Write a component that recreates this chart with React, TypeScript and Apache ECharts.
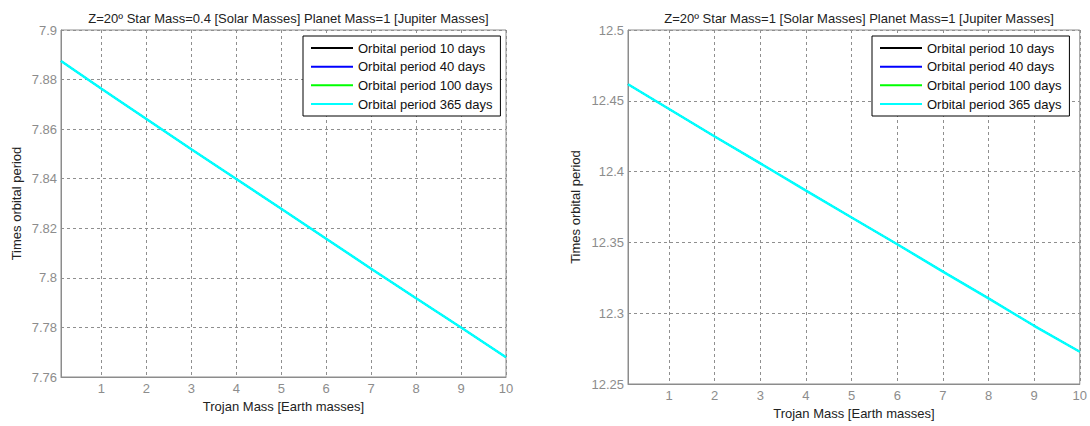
import React, { useEffect, useRef } from "react";
import * as echarts from "echarts";

const trojanMass = [0.1, 1, 2, 3, 4, 5, 6, 7, 8, 9, 10];
const xTicks = [1, 2, 3, 4, 5, 6, 7, 8, 9, 10];
const periodLeft = [7.8875, 7.8763, 7.8641, 7.8519, 7.8399, 7.8279, 7.8158, 7.8037, 7.7918, 7.78, 7.768];
const periodRight = [12.4617, 12.4442, 12.4248, 12.4058, 12.3866, 12.3676, 12.3487, 12.3294, 12.3105, 12.2911, 12.2728];
const seriesNames = ["Orbital period 10 days", "Orbital period 40 days", "Orbital period 100 days", "Orbital period 365 days"];
const seriesColors = ["#000000", "#0000ff", "#00ff00", "#00ffff"];
const titleLeft = "Z=20º Star Mass=0.4 [Solar Masses] Planet Mass=1 [Jupiter Masses]";
const titleRight = "Z=20º Star Mass=1 [Solar Masses] Planet Mass=1 [Jupiter Masses]";

const FONT = "'Liberation Sans', Arial, sans-serif";
const GRAY = "#8c8c8c";

export default function App() {
  const ref = useRef<HTMLDivElement>(null);
  useEffect(() => {
    document.body.style.margin = "0";
    const chart = echarts.init(ref.current!, null, { renderer: "svg" });
    const grids = [
      { left: 61, top: 30, width: 445, height: 347 },
      { left: 628, top: 30, width: 452, height: 354 },
    ];
    const yRanges = [
      { min: 7.76, max: 7.9, interval: 0.02, nameGap: 38 },
      { min: 12.25, max: 12.5, interval: 0.05, nameGap: 46 },
    ];
    const xNameGaps = [23, 21];
    const xLabelMargins = [5, 5];
    const dataSets = [periodLeft, periodRight];
    const series: any[] = [];
    dataSets.forEach((d, gi) => {
      seriesNames.forEach((n, si) => {
        const top = si === seriesNames.length - 1;
        series.push({
          type: "line",
          name: n,
          xAxisIndex: gi,
          yAxisIndex: gi,
          data: trojanMass.map((x, i) => [x, d[i]]),
          symbol: "none",
          lineStyle: { width: top ? 2.5 : 1.2, color: seriesColors[si] },
          itemStyle: { color: seriesColors[si] },
          z: 2 + si,
        });
      });
    });
    const legendLefts = [303, 872];
    chart.setOption({
      animation: false,
      textStyle: { fontFamily: FONT },
      title: [
        {
          text: titleLeft,
          left: 61 + 445 / 2,
          textAlign: "center",
          top: 7,
          textStyle: { fontSize: 13, fontWeight: "normal", color: "#222", fontFamily: FONT },
        },
        {
          text: titleRight,
          left: 628 + 452 / 2,
          textAlign: "center",
          top: 7,
          textStyle: { fontSize: 13, fontWeight: "normal", color: "#222", fontFamily: FONT },
        },
      ],
      legend: legendLefts.map((l) => ({
        orient: "vertical",
        left: l,
        top: 36,
        padding: [5, 8, 5, 8],
        icon: "rect",
        itemWidth: 42,
        itemHeight: 2,
        itemGap: 4.67,
        backgroundColor: "#fff",
        borderColor: "#000",
        borderWidth: 1,
        borderRadius: 0,
        data: seriesNames,
        textStyle: { fontSize: 13, lineHeight: 14, color: "#111", fontFamily: FONT },
      })),
      grid: grids.map((g) => ({
        ...g,
        show: true,
        borderColor: GRAY,
        borderWidth: 1,
        backgroundColor: "#fff",
      })),
      xAxis: grids.map((g, gi) => ({
        type: "value",
        gridIndex: gi,
        min: 0.1,
        max: 10,
        name: "Trojan Mass [Earth masses]",
        nameLocation: "middle",
        nameGap: xNameGaps[gi],
        nameTextStyle: { fontSize: 13, color: "#222", fontFamily: FONT },
        axisLine: { show: true, lineStyle: { color: GRAY } },
        axisTick: { show: false, customValues: xTicks },
        axisLabel: {
          customValues: xTicks,
          fontSize: 13,
          color: GRAY,
          margin: xLabelMargins[gi],
          fontFamily: FONT,
        },
        splitLine: { show: true, lineStyle: { color: "#8f8f8f", type: [3, 3], width: 1 } },
      })),
      yAxis: yRanges.map((r, gi) => ({
        type: "value",
        gridIndex: gi,
        min: r.min,
        max: r.max,
        interval: r.interval,
        name: "Times orbital period",
        nameLocation: "middle",
        nameGap: r.nameGap,
        nameTextStyle: { fontSize: 13, color: "#222", fontFamily: FONT },
        axisLine: { show: true, lineStyle: { color: GRAY } },
        axisTick: { show: false },
        axisLabel: { fontSize: 13, color: GRAY, margin: 4, fontFamily: FONT },
        splitLine: { show: true, lineStyle: { color: "#8f8f8f", type: [3, 3], width: 1 } },
      })),
      series,
    });
    return () => chart.dispose();
  }, []);
  return <div ref={ref} style={{ width: 1090, height: 426 }} />;
}
